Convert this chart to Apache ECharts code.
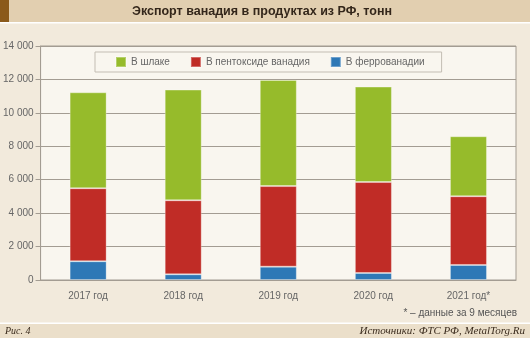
<!DOCTYPE html>
<html>
<head>
<meta charset="utf-8">
<script src="https://cdn.jsdelivr.net/npm/echarts@6/dist/echarts.min.js"></script>
<style>
  html, body { margin: 0; padding: 0; background: #f2eadc; }
  #chart { width: 530px; height: 338px; }
</style>
</head>
<body>
<div id="chart"></div>
<script>
// Export of vanadium from Russia by product, tonnes
const years = ['2017 год', '2018 год', '2019 год', '2020 год', '2021 год*'];
const slag = [5740, 6620, 6350, 5710, 3590];
const pentoxide = [4370, 4430, 4820, 5440, 4110];
const ferrovanadium = [1120, 340, 800, 420, 900];
const yTicks = [0, 2000, 4000, 6000, 8000, 10000, 12000, 14000];

const sans = '"Liberation Sans", Arial, sans-serif';
const serif = '"Liberation Serif", "Times New Roman", serif';

const chart = echarts.init(document.getElementById('chart'), null, { renderer: 'canvas' });

function barSeries(name, data, color) {
  return {
    name: name,
    type: 'bar',
    stack: 'total',
    data: data,
    barWidth: 37,
    itemStyle: { color: color, borderColor: 'rgba(255,255,255,0.3)', borderWidth: 1 },
    emphasis: { disabled: true }
  };
}

chart.setOption({
  backgroundColor: '#f2eadc',
  animation: false,
  grid: {
    left: 40, right: 14, top: 46, bottom: 58,
    show: true,
    backgroundColor: '#f9f6ef',
    borderColor: '#a39c92',
    borderWidth: 1
  },
  legend: {
    left: 95, top: 52,
    padding: [4, 17, 4, 20],
    itemWidth: 10, itemHeight: 10,
    itemGap: 20,
    icon: 'rect',
    backgroundColor: '#f9f6ef',
    borderColor: '#c3bdb3',
    borderWidth: 1,
    textStyle: { fontFamily: sans, fontSize: 10, color: '#666' },
    data: ['В шлаке', 'В пентоксиде ванадия', 'В феррованадии']
  },
  xAxis: {
    type: 'category',
    data: years,
    axisLine: { lineStyle: { color: '#a39c92' } },
    axisTick: { length: 5, lineStyle: { color: '#a39c92' } },
    axisLabel: { fontFamily: sans, fontSize: 10, color: '#666', margin: 11 }
  },
  yAxis: {
    type: 'value',
    min: yTicks[0],
    max: yTicks[yTicks.length - 1],
    interval: 2000,
    axisLine: { show: true, lineStyle: { color: '#a39c92' } },
    axisTick: { show: true, length: 5, lineStyle: { color: '#a39c92' } },
    splitLine: { lineStyle: { color: '#a39c92' } },
    axisLabel: {
      fontFamily: sans, fontSize: 10, color: '#666', margin: 7,
      formatter: v => String(v).replace(/\B(?=(\d{3})+(?!\d))/g, ' ')
    }
  },
  series: [
    barSeries('В феррованадии', ferrovanadium, '#2e78b6'),
    barSeries('В пентоксиде ванадия', pentoxide, '#c02c26'),
    barSeries('В шлаке', slag, '#96bb2b')
  ],
  graphic: [
    // title band
    { type: 'rect', left: 0, top: 0, shape: { width: 530, height: 22 }, style: { fill: '#e2cfb0' }, z: 0 },
    { type: 'rect', left: 0, top: 0, shape: { width: 9, height: 22 }, style: { fill: '#8b5a1b' }, z: 1 },
    { type: 'rect', left: 0, top: 22, shape: { width: 530, height: 1.5 }, style: { fill: '#ffffff' }, z: 1 },
    {
      type: 'text', x: 262, y: 12, z: 2,
      style: {
        text: 'Экспорт ванадия в продуктах из РФ, тонн',
        font: 'bold 12.5px ' + sans, fill: '#33261a',
        textAlign: 'center', textVerticalAlign: 'middle'
      }
    },
    // footnote
    {
      type: 'text', x: 517, y: 313, z: 2,
      style: {
        text: '* – данные за 9 месяцев',
        font: '10px ' + sans, fill: '#555',
        textAlign: 'right', textVerticalAlign: 'middle'
      }
    },
    // footer band
    { type: 'rect', left: 0, top: 322.5, shape: { width: 530, height: 1.5 }, style: { fill: '#ffffff' }, z: 1 },
    { type: 'rect', left: 0, top: 324, shape: { width: 530, height: 14 }, style: { fill: '#ebdfca' }, z: 0 },
    {
      type: 'text', x: 5, y: 331, z: 2,
      style: {
        text: 'Рис. 4',
        font: 'italic 10px ' + serif, fill: '#3b2c1e',
        textAlign: 'left', textVerticalAlign: 'middle'
      }
    },
    {
      type: 'text', x: 525, y: 331, z: 2,
      style: {
        text: 'Источники: ФТС РФ, MetalTorg.Ru',
        font: 'italic 11px ' + serif, fill: '#3b2c1e',
        textAlign: 'right', textVerticalAlign: 'middle'
      }
    }
  ]
});
</script>
</body>
</html>
